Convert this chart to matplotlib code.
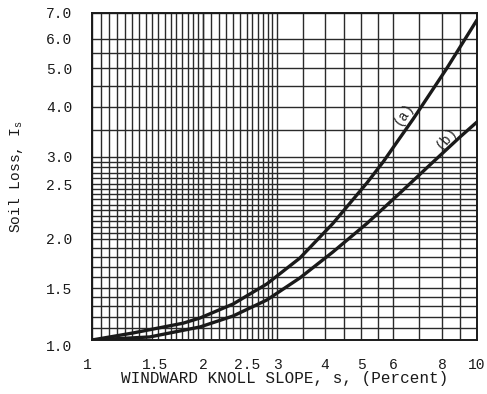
import numpy as np
import matplotlib
matplotlib.use("Agg")
import matplotlib.pyplot as plt
from matplotlib.ticker import FixedLocator, FixedFormatter, NullLocator

# ---- data ----
curve_a_x = [1.0, 1.30, 1.775, 1.964, 2.33, 2.82, 3.44, 4.20, 5.17, 5.67, 6.25, 6.75, 7.33, 8.26, 10.0]
curve_a_y = [1.0, 1.056, 1.14, 1.187, 1.324, 1.536, 1.788, 2.13, 2.517, 2.90, 3.35, 3.73, 4.21, 5.0, 6.72]
curve_b_x = [1.0, 1.45, 1.964, 2.33, 2.82, 3.44, 4.20, 5.17, 6.25, 7.59, 8.97, 10.0]
curve_b_y = [1.0, 1.024, 1.107, 1.206, 1.366, 1.591, 1.853, 2.13, 2.41, 2.90, 3.365, 3.67]

x_ticks = [1, 1.5, 2, 2.5, 3, 4, 5, 6, 8, 10]
x_tick_labels = ["1", "1.5", "2", "2.5", "3", "4", "5", "6", "8", "10"]
y_ticks = [1.0, 1.5, 2.0, 2.5, 3.0, 4.0, 5.0, 6.0, 7.0]
y_tick_labels = ["1.0", "1.5", "2.0", "2.5", "3.0", "4.0", "5.0", "6.0", "7.0"]

# grid values of the (irregular) chart paper
x_grid = list(np.linspace(1.0, 2.0, 18)) + list(np.linspace(2.0, 3.0, 13)) + \
         [3.5, 4, 4.5, 5, 5.5, 6, 7, 8, 9, 10]
y_grid = list(np.round(np.arange(1.0, 2.0001, 0.1), 3)) + \
         list(np.round(np.arange(2.05, 2.5001, 0.05), 3)) + [2.6, 2.7, 2.8, 2.9, 3.0] + \
         [3.5, 4, 4.5, 5, 5.5, 6, 7]

# ---- scale definitions of the chart paper (value -> relative position) ----
xs_knot_v = np.array([1, 1.5, 2, 2.5, 3, 4, 5, 6, 8, 10], float)
xs_knot_p = np.array([0, 63, 111, 155, 185, 233, 269, 301, 350, 385], float)
ys_knot_v = np.array([1, 1.5, 2, 2.5, 3, 4, 5, 6, 7], float)
ys_knot_p = np.array([0, 52, 101, 156, 183, 233, 272, 301, 327], float)


def pw_linear(t, xp, fp):
    t = np.asarray(t, float)
    out = np.interp(t, xp, fp)
    s0 = (fp[1] - fp[0]) / (xp[1] - xp[0])
    s1 = (fp[-1] - fp[-2]) / (xp[-1] - xp[-2])
    out = np.where(t < xp[0], fp[0] + (t - xp[0]) * s0, out)
    out = np.where(t > xp[-1], fp[-1] + (t - xp[-1]) * s1, out)
    return out


def make_scale(kv, kp):
    lv = np.log(kv)

    def fwd(v):
        v = np.clip(np.asarray(v, float), 1e-6, None)
        return pw_linear(np.log(v), lv, kp)

    def inv(p):
        return np.exp(pw_linear(p, kp, lv))
    return fwd, inv


plt.rcParams["font.family"] = ["Liberation Mono", "DejaVu Sans Mono"]
plt.rcParams["mathtext.fontset"] = "custom"
plt.rcParams["mathtext.rm"] = "Liberation Mono"
plt.rcParams["mathtext.it"] = "Liberation Mono"

fig = plt.figure(figsize=(4.87, 3.94), dpi=100)
ax = fig.add_axes([92 / 487, 1 - 340 / 394, 385 / 487, 327 / 394])

ax.set_xscale("function", functions=make_scale(xs_knot_v, xs_knot_p))
ax.set_yscale("function", functions=make_scale(ys_knot_v, ys_knot_p))
ax.set_xlim(1, 10)
ax.set_ylim(1, 7)

grid_col = "#2a2a2a"
for gx in x_grid:
    ax.axvline(gx, color=grid_col, lw=1.0, zorder=1)
for gy in y_grid:
    ax.axhline(gy, color=grid_col, lw=1.0, zorder=1)

ax.plot(curve_a_x, curve_a_y, color="#1a1a1a", lw=2.4, zorder=3,
        solid_capstyle="round", solid_joinstyle="round")
ax.plot(curve_b_x, curve_b_y, color="#1a1a1a", lw=2.4, zorder=3,
        solid_capstyle="round", solid_joinstyle="round")

ax.text(6.38, 3.84, "(a)", rotation=57, ha="center", va="center", fontsize=10,
        color="#222222", zorder=4)
ax.text(8.22, 3.35, "(b)", rotation=50, ha="center", va="center", fontsize=10,
        color="#222222", zorder=4)

ax.xaxis.set_major_locator(FixedLocator(x_ticks))
ax.xaxis.set_major_formatter(FixedFormatter(x_tick_labels))
ax.yaxis.set_major_locator(FixedLocator(y_ticks))
ax.yaxis.set_major_formatter(FixedFormatter(y_tick_labels))
ax.xaxis.set_minor_locator(NullLocator())
ax.yaxis.set_minor_locator(NullLocator())
ax.tick_params(axis="both", length=0, labelsize=10.5, colors="#1a1a1a")
ax.tick_params(axis="x", pad=13)
ax.tick_params(axis="y", pad=14)

for s in ax.spines.values():
    s.set_color("#1a1a1a")
    s.set_linewidth(1.4)

ax.set_xlabel("WINDWARD KNOLL SLOPE, s, (Percent)", fontsize=11.5, labelpad=-1,
              color="#1a1a1a")
ax.set_ylabel("Soil Loss, I$_\\mathregular{s}$", fontsize=10.5, labelpad=15, color="#1a1a1a")

fig.canvas.draw()
ax.xaxis.get_majorticklabels()[0].set_horizontalalignment("right")
ax.yaxis.get_majorticklabels()[0].set_verticalalignment("top")

fig.savefig("out.png", dpi=100)
